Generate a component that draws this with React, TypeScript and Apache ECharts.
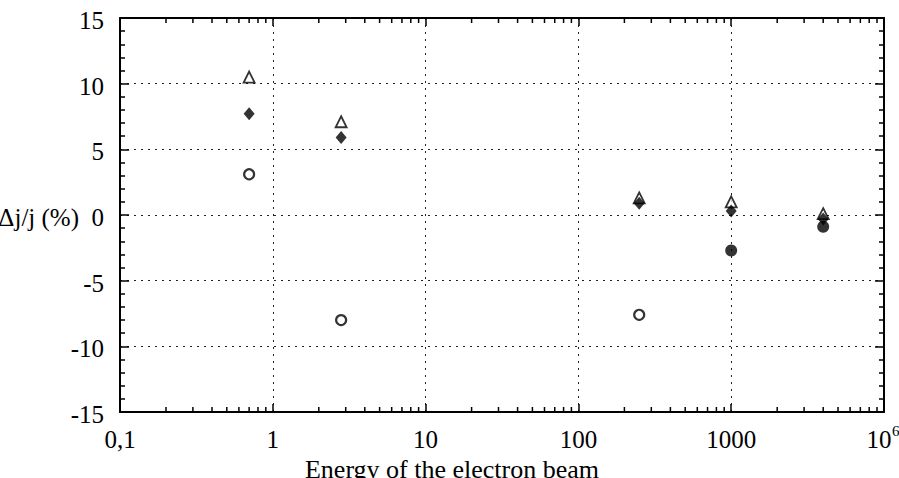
import React, { useEffect, useRef } from "react";
import * as echarts from "echarts";

// Energy positions (axis values) and Δj/j (%) for each marker set
const triangleData: [number, number][] = [
  [0.7, 10.5],
  [2.8, 7.1],
  [250, 1.3],
  [1000, 1.0],
  [4000, 0.1],
];
const diamondData: [number, number][] = [
  [0.7, 7.7],
  [2.8, 5.9],
  [250, 0.9],
  [1000, 0.3],
  [4000, -0.3],
];
const openCircleData: [number, number][] = [
  [0.7, 3.1],
  [2.8, -8.0],
  [250, -7.6],
];
const filledCircleData: [number, number][] = [
  [1000, -2.7],
  [4000, -0.9],
];

// Tick labels (the last decade is printed as "10^6" in the original figure)
const xTickValues = [0.1, 1, 10, 100, 1000, 10000];
const xTickLabels = ["0,1", "1", "10", "100", "1000", "10|6"];
const yTickValues = [-15, -10, -5, 0, 5, 10, 15];
const yTickLabels = ["-15", "-10", "-5", "0", "5", "10", "15"];
const decades = [0.1, 1, 10, 100, 1000];
const minorMultipliers = [2, 3, 4, 5, 6, 7, 8, 9];

const FONT = "Liberation Serif";
const FS = 25;

export default function App() {
  const ref = useRef<HTMLDivElement>(null);

  useEffect(() => {
    if (!ref.current) return;
    const chart = echarts.init(ref.current, undefined, { renderer: "svg" });

    const minorTicks: number[] = [];
    decades.forEach((d) => minorMultipliers.forEach((m) => minorTicks.push(d * m)));

    const grid = { left: 120, right: 15, top: 18, bottom: 66, containLabel: false, outerBoundsMode: "none" };
    const axisLine = { show: true, onZero: false, lineStyle: { color: "#000", width: 2 } };
    const splitLine = {
      show: true,
      lineStyle: { color: "#222", width: 1, type: [2, 5] as any },
    };

    const txt = (text: string, x: number, y: number, align: string, size = FS) => ({
      type: "text",
      x,
      y,
      style: { text, fontFamily: FONT, fontSize: size, fill: "#000", textAlign: align, textVerticalAlign: "bottom" },
    });

    const option: any = {
      animation: false,
      backgroundColor: "#fff",
      grid,
      xAxis: [
        {
          type: "log",
          logBase: 10,
          min: 0.1,
          max: 10000,
          position: "bottom",
          axisLine,
          axisTick: { show: true, inside: true, length: 8, lineStyle: { color: "#000", width: 1.5 } },
          splitLine,
          axisLabel: { show: false },
        },
        {
          type: "log",
          logBase: 10,
          min: 0.1,
          max: 10000,
          position: "top",
          axisLine,
          axisTick: { show: true, inside: true, length: 8, lineStyle: { color: "#000", width: 1.5 } },
          axisLabel: { show: false },
          splitLine: { show: false },
        },
      ],
      yAxis: [
        {
          type: "value",
          min: -15,
          max: 15,
          interval: 5,
          position: "left",
          axisLine,
          axisTick: { show: true, inside: true, length: 9, lineStyle: { color: "#000", width: 1.5 } },
          minorTick: { show: true, splitNumber: 5, length: 5, lineStyle: { color: "#000", width: 1.5 } },
          splitLine,
          axisLabel: { show: false },
        },
        {
          type: "value",
          min: -15,
          max: 15,
          interval: 5,
          position: "right",
          axisLine,
          axisTick: { show: true, inside: true, length: 9, lineStyle: { color: "#000", width: 1.5 } },
          minorTick: { show: true, splitNumber: 5, length: 5, lineStyle: { color: "#000", width: 1.5 } },
          splitLine: { show: false },
          axisLabel: { show: false },
        },
      ],
      graphic: [
        txt("Δj/j (%)", 79, 230, "right"),
        txt("Energy of the electron beam", 452, 482, "center", 26),
      ],
      series: [
        {
          type: "custom",
          name: "minorTicks",
          silent: true,
          data: minorTicks.map((v) => [v]),
          encode: { x: 0 },
          renderItem: (params: any, api: any) => {
            const v = api.value(0);
            const b = api.coord([v, -15]);
            const t = api.coord([v, 15]);
            const L = 5;
            return {
              type: "group",
              children: [
                { type: "line", shape: { x1: b[0], y1: b[1], x2: b[0], y2: b[1] - L }, style: { stroke: "#000", lineWidth: 1.5 } },
                { type: "line", shape: { x1: t[0], y1: t[1], x2: t[0], y2: t[1] + L }, style: { stroke: "#000", lineWidth: 1.5 } },
              ],
            };
          },
        },
        {
          type: "custom",
          name: "xLabels",
          silent: true,
          clip: false,
          data: xTickValues.map((v, i) => [v, i]),
          encode: { x: 0 },
          renderItem: (params: any, api: any) => {
            const v = api.value(0);
            const i = api.value(1);
            const p = api.coord([v, -15]);
            const label = xTickLabels[i];
            const y = p[1] + 40;
            if (label.indexOf("|") >= 0) {
              const [base, sup] = label.split("|");
              return {
                type: "group",
                children: [txt(base, p[0] - 5, y, "center"), txt(sup, p[0] + 8, y - 14, "left", 15)],
              };
            }
            return txt(label, p[0], y, "center");
          },
        },
        {
          type: "custom",
          name: "yLabels",
          silent: true,
          clip: false,
          data: yTickValues.map((v, i) => [0.1, v, i]),
          encode: { x: 0, y: 1 },
          renderItem: (params: any, api: any) => {
            const p = api.coord([api.value(0), api.value(1)]);
            return txt(yTickLabels[api.value(2)], p[0] - 16, p[1] + 15, "right");
          },
        },
        {
          type: "scatter",
          name: "triangle",
          data: triangleData,
          symbol: "triangle",
          symbolSize: [11, 11],
          itemStyle: { color: "#fff", borderColor: "#000", borderWidth: 1.8 },
          z: 3,
        },
        {
          type: "scatter",
          name: "diamond",
          data: diamondData,
          symbol: "diamond",
          symbolSize: [11, 13],
          itemStyle: { color: "#000" },
          z: 4,
        },
        {
          type: "scatter",
          name: "open circle",
          data: openCircleData,
          symbol: "circle",
          symbolSize: 10,
          itemStyle: { color: "#fff", borderColor: "#000", borderWidth: 2.2 },
          z: 3,
        },
        {
          type: "scatter",
          name: "filled circle",
          data: filledCircleData,
          symbol: "circle",
          symbolSize: 12,
          itemStyle: { color: "#000" },
          z: 4,
        },
      ],
    };

    chart.setOption(option);
    return () => chart.dispose();
  }, []);

  return <div ref={ref} style={{ position: "fixed", left: 0, top: 0, width: 899, height: 478 }} />;
}
